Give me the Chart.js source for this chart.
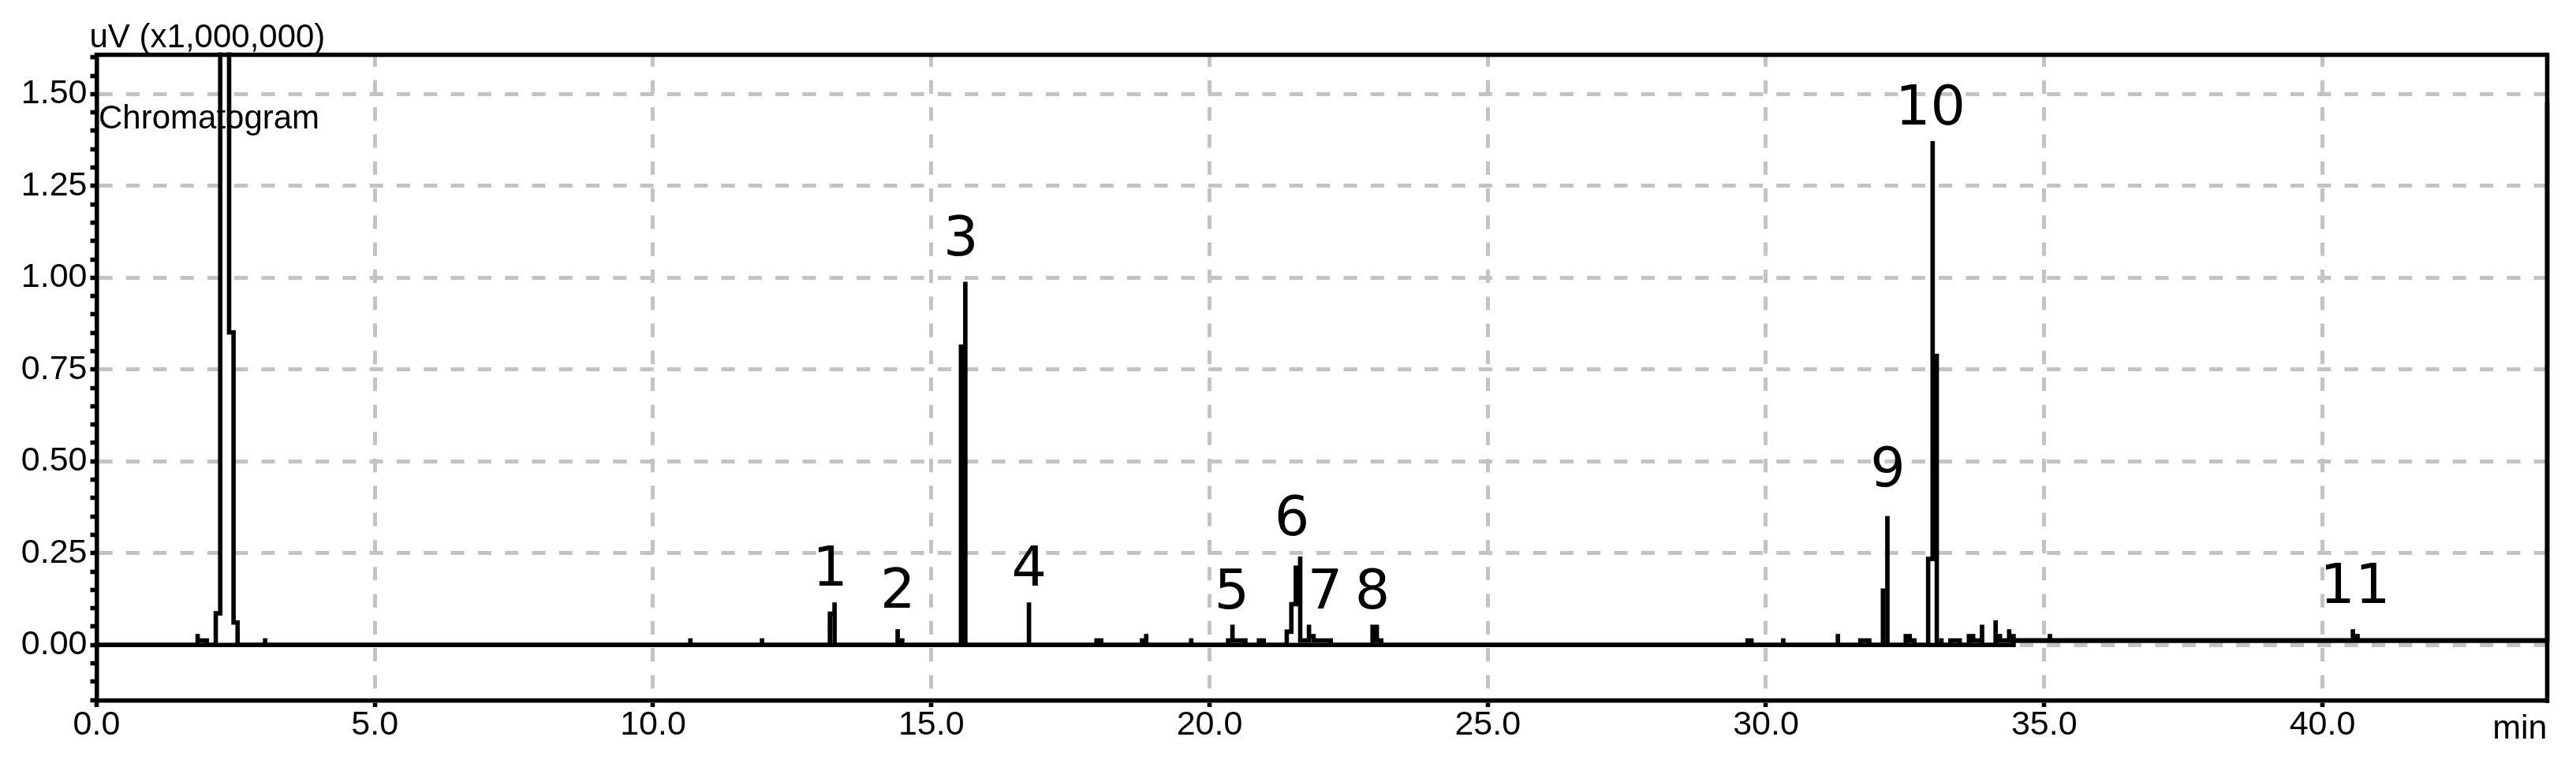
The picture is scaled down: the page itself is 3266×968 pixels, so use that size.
<!DOCTYPE html>
<html>
<head>
<meta charset="utf-8">
<script src="https://cdn.jsdelivr.net/npm/chart.js@4/dist/chart.umd.min.js"></script>
<style>
html,body{margin:0;padding:0;background:#fff;}
canvas{display:block;}
</style>
</head>
<body>
<canvas id="c" width="3266" height="968" style="width:3266px;height:968px"></canvas>
<script>
// ---- data (time in min, signal in uV x1,000,000) ----
// change points of the stepped trace
const signalTimes = [
  0, 1.815, 1.816, 1.980, 2.141, 2.221, 2.381, 2.461, 2.533,
  3.028, 3.029,
  10.670, 10.671,
  11.958, 11.959,
  13.178, 13.261, 13.262,
  14.395, 14.396, 14.478,
  15.533, 15.611, 15.612,
  16.755, 16.756,
  17.969, 18.055,
  18.787, 18.862, 18.863,
  19.670, 19.671,
  20.335, 20.412, 20.413, 20.644,
  20.889, 20.975,
  21.388, 21.471, 21.551, 21.629, 21.630, 21.787, 21.788, 21.871, 22.179,
  22.930, 23.007, 23.087,
  29.669, 29.739,
  30.310, 30.311,
  31.292, 31.293,
  31.696, 31.857,
  32.102, 32.182, 32.183,
  32.512, 32.584, 32.667,
  32.915, 32.995, 32.996, 33.070,
  33.153, 33.154,
  33.316, 33.482,
  33.647, 33.724, 33.883, 33.884,
  34.127, 34.128, 34.205, 34.370, 34.371, 34.450,
  35.103, 35.104,
  40.548, 40.549, 40.632,
  44.040, 44.118
];
const signalValues = [
  0, 0.024, 0.012, 0, 0.086, 3.0, 0.851, 0.061, 0,
  0.012, 0,
  0.012, 0,
  0.012, 0,
  0.085, 0.110, 0,
  0.037, 0.012, 0,
  0.812, 0.983, 0,
  0.110, 0,
  0.012, 0,
  0.012, 0.024, 0,
  0.012, 0,
  0.012, 0.049, 0.012, 0,
  0.012, 0,
  0.036, 0.111, 0.210, 0.235, 0.012, 0.049, 0.024, 0.012, 0,
  0.049, 0.012, 0,
  0.012, 0,
  0.012, 0,
  0.024, 0,
  0.012, 0,
  0.148, 0.345, 0,
  0.024, 0.012, 0,
  0.234, 1.366, 0.787, 0,
  0.012, 0,
  0.012, 0,
  0.024, 0.012, 0.049, 0,
  0.061, 0.024, 0.012, 0.037, 0.024, 0.012,
  0.024, 0.012,
  0.037, 0.024, 0.012,
  1.476, -0.5
];
// detector baseline under the trace
const baselineTimes  = [0, 34.450, 34.450, 44.04];
const baselineValues = [0, 0, 0.012, 0.012];

// peak numbers and where they are written (centre time, bottom value)
const peakNames       = ['1', '2', '3', '4', '5', '6', '7', '8', '9', '10', '11'];
const peakLabelTimes  = [13.183, 14.399, 15.533, 16.758, 20.401, 21.482, 22.078, 22.929, 32.189, 32.957, 40.587];
const peakLabelValues = [0.162, 0.101, 1.061, 0.162, 0.100, 0.299, 0.100, 0.100, 0.432, 1.416, 0.114];

// axes
const xRange = [0, 44.04];
const yRange = [-0.152, 1.607];
const xTickStep = 5;
const yMajorStep = 0.25;
const yMinorStep = 0.05;
const yTitle = 'uV (x1,000,000)';
const xTitle = 'min';
const legendText = 'Chromatogram';

// ---- styling ----
const LW = 5.6;
const GRID = '#c3c3c3';
const DASH = [17.15, 17.15];
const TICK_FONT = {family: '"Liberation Sans", Arial, sans-serif', size: 43, lineHeight: 1};

function isMajor(v) {
  const r = v / yMajorStep;
  return Math.abs(r - Math.round(r)) < 1e-6;
}
const toXY = (ts, vs) => ts.map((t, i) => ({x: t, y: vs[i]}));

const overlay = {
  id: 'overlay',
  afterDatasetsDraw(chart) {
    const {ctx, chartArea: a, scales: {x, y}} = chart;
    ctx.save();
    // top and right frame lines
    ctx.strokeStyle = '#000';
    ctx.lineWidth = LW;
    ctx.lineCap = 'butt';
    ctx.lineJoin = 'miter';
    ctx.beginPath();
    ctx.moveTo(a.left - LW / 2, a.top);
    ctx.lineTo(a.right, a.top);
    ctx.lineTo(a.right, a.bottom + LW / 2);
    ctx.stroke();
    // texts
    ctx.fillStyle = '#000';
    ctx.textBaseline = 'alphabetic';
    ctx.textAlign = 'left';
    ctx.font = '42px "Liberation Sans", Arial, sans-serif';
    ctx.fillText(yTitle, a.left - 9, a.top - 9.5);
    ctx.fillText(legendText, a.left + 2.5, a.top + 93.8);
    ctx.textAlign = 'right';
    ctx.font = '43px "Liberation Sans", Arial, sans-serif';
    ctx.fillText(xTitle, a.right, a.bottom + 48.3);
    // peak numbers
    ctx.font = '70px "DejaVu Sans", sans-serif';
    ctx.textAlign = 'center';
    peakNames.forEach((n, i) => {
      ctx.fillText(n, x.getPixelForValue(peakLabelTimes[i]), y.getPixelForValue(peakLabelValues[i]));
    });
    ctx.restore();
  }
};

const lineStyle = {
  borderColor: '#000',
  borderWidth: LW,
  pointRadius: 0,
  pointHoverRadius: 0,
  stepped: true,
  fill: false,
  tension: 0,
  borderJoinStyle: 'miter',
  borderCapStyle: 'butt',
  clip: {left: 3, top: 3, right: 9, bottom: 3}
};

new Chart(document.getElementById('c'), {
  type: 'line',
  data: {
    datasets: [
      Object.assign({label: 'baseline', data: toXY(baselineTimes, baselineValues)}, lineStyle),
      Object.assign({label: legendText, data: toXY(signalTimes, signalValues)}, lineStyle)
    ]
  },
  options: {
    responsive: false,
    animation: false,
    devicePixelRatio: 1,
    events: [],
    plugins: {legend: {display: false}, tooltip: {enabled: false}},
    layout: {padding: {left: 0, top: 69.5, right: 36.5, bottom: 0}},
    scales: {
      x: {
        type: 'linear',
        min: xRange[0],
        max: xRange[1],
        afterFit(s) { s.height = 79; },
        ticks: {
          stepSize: xTickStep,
          includeBounds: false,
          autoSkip: false,
          maxRotation: 0,
          padding: 1.5,
          color: '#000',
          font: TICK_FONT,
          callback: v => Number(v).toFixed(1)
        },
        grid: {
          color: GRID,
          lineWidth: 5,
          drawTicks: true,
          tickLength: 8,
          tickColor: '#000',
          tickWidth: LW
        },
        border: {display: true, color: '#000', width: LW, dash: DASH, dashOffset: 2}
      },
      y: {
        type: 'linear',
        min: yRange[0],
        max: yRange[1],
        afterFit(s) { s.width = 122.5; },
        ticks: {
          stepSize: yMinorStep,
          includeBounds: false,
          autoSkip: false,
          padding: 4,
          color: '#000',
          font: TICK_FONT,
          callback: v => isMajor(v) ? Number(v).toFixed(2) : ''
        },
        grid: {
          color: c => (c.tick && isMajor(c.tick.value)) ? GRID : 'rgba(0,0,0,0)',
          lineWidth: 5,
          drawTicks: true,
          tickLength: 8,
          tickColor: '#000',
          tickWidth: LW
        },
        border: {display: true, color: '#000', width: LW, dash: DASH, dashOffset: 0}
      }
    }
  },
  plugins: [overlay]
});
</script>
</body>
</html>
